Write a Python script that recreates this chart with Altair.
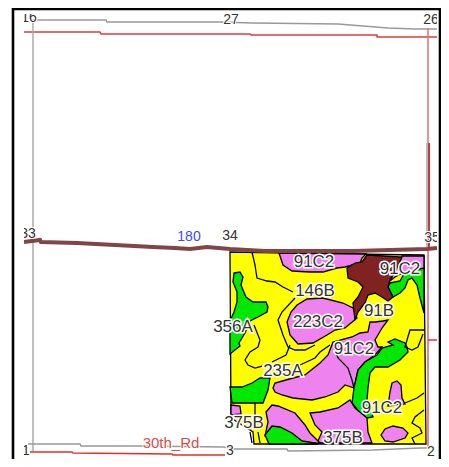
import altair as alt

YELLOW = "#ffff00"
GREEN = "#00e800"
PINK = "#ee82ee"
BROWN = "#802222"

# soil polygons (map coordinates)
parcel = [(230,252),(345,254),(424,255),(426,444),(254,444),(253,432),(231,418)]
pink_top = [(279,253),(283,265),(292,271),(310,272),(323,272),(337,268),(345,267),(360,263),(362,258),(366,254)]
pink_corner = [(402,256),(424,256),(424,272),(405,272),(395,277),(390,281)]
green_corner = [(390,283),(400,281),(405,272),(424,268),(424,313),(420,298),(417,285),(412,278),(408,280),(405,288),(400,293),(393,297),(388,287)]
brown_patch = [(367,255),(402,257),(397,268),(390,280),(388,287),(393,297),(388,301),(382,297),(375,293),(368,295),(365,303),(358,312),(355,320),(353,303),(358,297),(363,287),(358,282),(348,278),(347,268),(355,263),(362,262)]
pink_223 = [(297,305),(307,299),(323,298),(343,303),(353,308),(357,318),(345,328),(335,330),(327,335),(313,343),(298,344),(290,335),(287,322),(291,312)]
green_left = [(234,273),(240,272),(243,277),(241,285),(246,297),(253,302),(266,302),(268,307),(267,312),(258,317),(250,321),(245,333),(239,343),(240,346),(230,354),(230,321),(234,312),(237,302),(237,292),(233,282)]
pink_center = [(273,388),(275,383),(293,378),(305,375),(320,363),(328,355),(333,342),(352,337),(360,333),(368,332),(370,322),(375,322),(383,321),(388,320),(382,328),(375,340),(378,347),(382,347),(375,355),(365,362),(358,370),(354,388),(345,385),(338,392),(325,397),(312,400),(293,398),(282,395),(275,392)]
green_center = [(393,345),(388,342),(395,339),(405,343),(407,347),(408,352),(400,360),(388,367),(375,367),(370,373),(368,388),(367,400),(373,417),(367,418),(360,413),(352,403),(354,388),(358,370),(365,362),(377,355),(382,348)]
pink_lower = [(310,413),(320,412),(338,408),(350,400),(355,408),(367,418),(368,432),(372,443),(317,443),(322,432),(315,425)]
pink_lower_left = [(266,412),(272,405),(278,406),(295,413),(305,425),(310,433),(320,443),(292,444),(265,436),(268,422)]
green_bottom = [(265,435),(272,426),(280,427),(292,433),(302,441),(315,443),(318,444),(269,444)]
green_mid_left = [(230,387),(242,387),(252,383),(260,378),(270,378),(268,390),(263,403),(242,403),(232,403)]
pink_small_left = [(231,405),(240,406),(241,414),(231,415)]
pink_lobe = [(392,383),(397,381),(401,385),(402,398),(405,404),(388,406),(390,392)]
pink_ellipse = [(381,435),(385,429),(393,426),(403,428),(408,433),(405,438),(393,442),(385,441)]

polygons = [
    (parcel, YELLOW), (pink_top, PINK), (pink_corner, PINK), (green_corner, GREEN),
    (pink_223, PINK), (green_left, GREEN), (pink_center, PINK), (green_center, GREEN),
    (pink_lower, PINK), (pink_lower_left, PINK), (green_bottom, GREEN),
    (green_mid_left, GREEN), (pink_small_left, PINK), (pink_lobe, PINK),
    (pink_ellipse, PINK), (brown_patch, BROWN),
]

# soil boundaries
boundary_lines = [
    [(252,252),(255,265),(257,278),(267,281),(275,282),(283,287),(293,292)],
    [(295,298),(282,312),(278,320),(283,335),(288,347),(295,350),(305,350),(315,345)],
    [(254,325),(260,340),(258,347),(250,352),(245,360),(248,365),(255,368),(262,366)],
    [(290,345),(286,355),(272,362)],
    [(300,365),(315,358),(320,352),(330,345)],
    [(333,345),(338,358),(348,368),(352,380),(354,388)],
    [(255,402),(255,417)],
    [(258,432),(260,443)],
    [(250,432),(252,443)],
    [(424,330),(410,330),(407,340),(405,347),(412,350),(418,347),(423,334)],
    [(424,393),(417,398),(405,403)],
    [(424,410),(415,417),(412,423),(420,428),(422,433),(412,438),(415,444)],
]

# roads and section lines
gray_top = [(33,20),(106,20),(107,22),(220,22),(253,23),(338,24),(363,26),(388,28),(415,29),(437,29)]
red_top = [(24,32),(100,32),(101,34),(250,34),(251,35),(377,35),(377,37),(437,37)]
gray_left = [(33,20),(33,451)]
gray_right = [(427,143),(427,247)]
red_right = [(428,28),(428,143)]
brown_right = [(429,143),(429,247)]
red_right_lower = [(428,250),(428,448)]
red_tick = [(428,340),(437,340)]
gray_bottom = [(28,444),(80,444),(81,446),(142,446),(223,447),(235,449),(287,449),(288,451),(373,450),(420,448),(428,448)]
red_bottom = [(30,452),(72,452),(73,453),(172,454),(173,455),(225,455)]
road_180 = [(24,242),(40,240),(41,242),(77,243),(115,245),(153,247),(175,248),(190,249),(207,247),(230,249),(265,251),(353,251),(427,249),(437,248)]

thin_lines = [
    (gray_top, "#999999", 1.5), (red_top, "#dd3c3c", 1.5), (gray_left, "#aaaaaa", 1.5),
    (gray_right, "#999999", 1.3), (red_right, "#e07070", 1.5), (brown_right, "#b04848", 2.2),
    (red_right_lower, "#e06060", 1.5), (red_tick, "#e03030", 1.5),
    (gray_bottom, "#999999", 1.5), (red_bottom, "#dd3030", 1.5),
]

# clipping of the map window and the frame
mask_left = [(0,0),(24,0),(24,470),(0,470)]
mask_right = [(437,0),(449,0),(449,470),(437,470)]
mask_top = [(0,0),(449,0),(449,14),(0,14)]
mask_bottom = [(0,457),(449,457),(449,470),(0,470)]
frame_left = [(13,8),(13,459)]
frame_right = [(440,8),(440,459)]
frame_top = [(13,9),(441,9)]

# text labels
soil_text = ["91C2","91C2","146B","91B","223C2","356A","91C2","235A","91C2","375B","375B"]
soil_x = [314,400,315,379,318,233,354,283,382,244,343]
soil_y = [262,269,291,311,322,327,349,371,408,423,438]
corner_text = ["16","27","26","33","34","35","1","3","2"]
corner_x = [29,231,431,28,230,432,26,230,431]
corner_y = [18,20,20,234,236,238,451,451,452]

def ring(points):
    pts = [list(p) for p in points]
    return pts + [pts[0]]

def polygon_layer(points, fill, stroke="#000000", width=1.3):
    geo = {"type": "Feature", "properties": {}, "geometry": {"type": "Polygon", "coordinates": [ring(points)]}}
    kw = {"stroke": stroke, "strokeWidth": width} if stroke else {"strokeWidth": 0}
    return alt.Chart(alt.Data(values=[geo])).mark_geoshape(fill=fill, **kw)

def line_layer(points, stroke, width):
    geo = {"type": "Feature", "properties": {}, "geometry": {"type": "LineString", "coordinates": [list(p) for p in points]}}
    return alt.Chart(alt.Data(values=[geo])).mark_geoshape(filled=False, stroke=stroke, strokeWidth=width)

def text_layer(texts, xs, ys, color, size, halo=3.0):
    data = alt.Data(values=[{"t": t, "x": x, "y": y} for t, x, y in zip(texts, xs, ys)])
    enc = dict(longitude=alt.Longitude("x:Q"), latitude=alt.Latitude("y:Q"), text=alt.Text("t:N"))
    base = dict(font="Liberation Sans", fontSize=size, align="center", baseline="middle")
    return [
        alt.Chart(data).mark_text(stroke="#ffffff", strokeWidth=halo, fill="#ffffff", **base).encode(**enc),
        alt.Chart(data).mark_text(fill=color, **base).encode(**enc),
    ]

layers = []
layers += [line_layer(p, c, w) for p, c, w in thin_lines]
layers += [polygon_layer(p, c) for p, c in polygons]
layers += [line_layer(p, "#000000", 1.3) for p in boundary_lines]
layers += [line_layer(road_180, "#824545", 4)]
layers += text_layer(soil_text, soil_x, soil_y, "#333333", 17)
layers += text_layer(corner_text, corner_x, corner_y, "#333333", 14, 2.0)
layers += text_layer(["180"], [189], [237], "#4646ff", 14, 2.0)
layers += text_layer(["30th_Rd"], [171], [443], "#d84c4c", 15, 2.0)
layers += [polygon_layer(p, "#ffffff", None) for p in (mask_left, mask_right, mask_top, mask_bottom)]
layers += [line_layer(p, "#000000", 2.6) for p in (frame_left, frame_right, frame_top)]

chart = (
    alt.layer(*layers)
    .project(type="identity", scale=1, translate=[-8, -8])
    .properties(width=433, height=451, padding=0, autosize=alt.AutoSizeParams(type="none"))
    .configure_view(stroke=None)
)

chart.save("out.html", embed_options={"renderer": "svg", "actions": False})
